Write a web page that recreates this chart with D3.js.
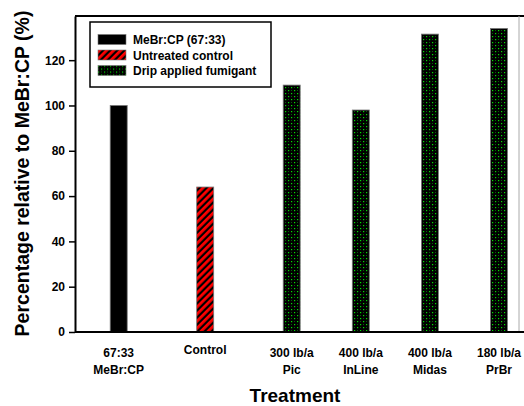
<!DOCTYPE html>
<html lang="en">
<head>
<meta charset="UTF-8">
<title>treatment-bars</title>
<script src="https://cdn.jsdelivr.net/npm/d3@7"></script>
<style>
    body { margin: 0; background: #fff; }
    svg { display: block; font-family: "Liberation Sans", Arial, sans-serif; font-weight: bold; }
</style>
</head>
<body>
<svg id="chart"></svg>
<script>
    // data
    var treatments = [["67:33", "MeBr:CP"], ["Control"], ["300 lb/a", "Pic"], ["400 lb/a", "InLine"], ["400 lb/a", "Midas"], ["180 lb/a", "PrBr"]];
    var values = [100, 64, 109, 98, 131.5, 134];
    var groups = ["mebr", "control", "drip", "drip", "drip", "drip"];
    var legendLabels = ["MeBr:CP (67:33)", "Untreated control", "Drip applied fumigant"];
    var legendGroups = ["mebr", "control", "drip"];
    var yTicks = [0, 20, 40, 60, 80, 100, 120];

    var width = 524, height = 406;
    // plot box (note: "top" is reserved on window, so use plot* names)
    var plotLeft = 75, plotTop = 16, plotBottom = 332, plotRight = 524;

    var svg = d3.select('#chart').attr('width', width).attr('height', height);

    // fill patterns
    var defs = svg.append('defs');
    var hatch = defs.append('pattern').attr('id', 'hatch')
        .attr('patternUnits', 'userSpaceOnUse').attr('width', 5).attr('height', 5)
        .attr('patternTransform', 'rotate(45)');
    hatch.append('rect').attr('width', 5).attr('height', 5).attr('fill', '#000');
    hatch.append('rect').attr('width', 2.8).attr('height', 5).attr('fill', '#ff0000');

    var dots = defs.append('pattern').attr('id', 'dots')
        .attr('patternUnits', 'userSpaceOnUse').attr('width', 6).attr('height', 6);
    dots.append('rect').attr('width', 6).attr('height', 6).attr('fill', '#000');
    dots.append('rect').attr('x', 0).attr('y', 0).attr('width', 1.2).attr('height', 1.2).attr('fill', '#00e000');
    dots.append('rect').attr('x', 3).attr('y', 3).attr('width', 1.2).attr('height', 1.2).attr('fill', '#00e000');
    dots.append('rect').attr('x', 3).attr('y', 0).attr('width', 1).attr('height', 1).attr('fill', '#0a5a0a');
    dots.append('rect').attr('x', 0).attr('y', 3).attr('width', 1).attr('height', 1).attr('fill', '#0a5a0a');

    var fills = { mebr: '#000', control: 'url(#hatch)', drip: 'url(#dots)' };

    // scales (uneven spacing between the first three and the fumigant bars)
    var x = d3.scaleLinear().domain([0, 2, 5]).range([118.7, 291.7, 499]);
    var y = d3.scaleLinear().domain([0, 139.5]).range([plotBottom, plotTop]);
    var barW = 17;

    // bars
    svg.append('g').selectAll('rect')
        .data(values)
        .enter()
        .append('rect')
        .attr('x', function (d, i) { return x(i) - barW / 2; })
        .attr('y', function (d) { return y(d); })
        .attr('width', barW)
        .attr('height', function (d) { return y(0) - y(d); })
        .attr('fill', function (d, i) { return fills[groups[i]]; })
        .attr('stroke', '#777')
        .attr('stroke-width', 0.8);

    // frame
    svg.append('line').attr('x1', plotLeft).attr('x2', plotRight).attr('y1', plotTop).attr('y2', plotTop)
        .attr('stroke', '#000').attr('stroke-width', 2);
    svg.append('line').attr('x1', 519).attr('x2', 519).attr('y1', plotTop).attr('y2', plotBottom)
        .attr('stroke', '#aaa').attr('stroke-width', 1);
    svg.append('line').attr('x1', plotLeft).attr('x2', plotRight).attr('y1', plotBottom).attr('y2', plotBottom)
        .attr('stroke', '#000').attr('stroke-width', 2);

    // y axis
    var yAxis = svg.append('g')
        .attr('transform', 'translate(' + plotLeft + ',0)')
        .call(d3.axisLeft(y).tickValues(yTicks).tickSize(6).tickPadding(4).tickSizeOuter(0));
    yAxis.select('.domain').attr('stroke-width', 2);
    yAxis.selectAll('.tick line').attr('stroke-width', 1.5);
    yAxis.selectAll('.tick text')
        .attr('font-family', '"Liberation Sans", Arial, sans-serif')
        .attr('font-weight', 'bold')
        .attr('font-size', 12);

    // x labels
    var xLab = svg.append('g').selectAll('text')
        .data(treatments)
        .enter()
        .append('text')
        .attr('text-anchor', 'middle')
        .attr('font-size', 12)
        .attr('x', function (d, i) { return x(i); })
        .attr('y', function (d) { return d.length > 1 ? 357 : 354; });
    xLab.selectAll('tspan')
        .data(function (d) { return d; })
        .enter()
        .append('tspan')
        .attr('x', function () { return d3.select(this.parentNode).attr('x'); })
        .attr('dy', function (d, i) { return i === 0 ? 0 : 16.5; })
        .text(function (d) { return d; });

    // axis titles
    svg.append('text')
        .attr('x', 295).attr('y', 402)
        .attr('text-anchor', 'middle')
        .attr('font-size', 19)
        .text('Treatment');

    svg.append('text')
        .attr('transform', 'translate(29,173.5) rotate(-90)')
        .attr('text-anchor', 'middle')
        .attr('font-size', 19.5)
        .text('Percentage relative to MeBr:CP (%)');

    // legend
    var legend = svg.append('g');
    legend.append('rect')
        .attr('x', 90).attr('y', 22).attr('width', 181).attr('height', 65)
        .attr('fill', '#fff').attr('stroke', '#000').attr('stroke-width', 1.5);
    var rows = legend.selectAll('g.row')
        .data(legendLabels)
        .enter()
        .append('g')
        .attr('class', 'row')
        .attr('transform', function (d, i) { return 'translate(98,' + (34.5 + i * 15.5) + ')'; });
    rows.append('rect')
        .attr('width', 28).attr('height', 10)
        .attr('fill', function (d, i) { return fills[legendGroups[i]]; })
        .attr('stroke', '#777').attr('stroke-width', 0.6);
    rows.append('text')
        .attr('x', 35).attr('y', 9.5)
        .attr('font-size', 12)
        .text(function (d) { return d; });
</script>
</body>
</html>
